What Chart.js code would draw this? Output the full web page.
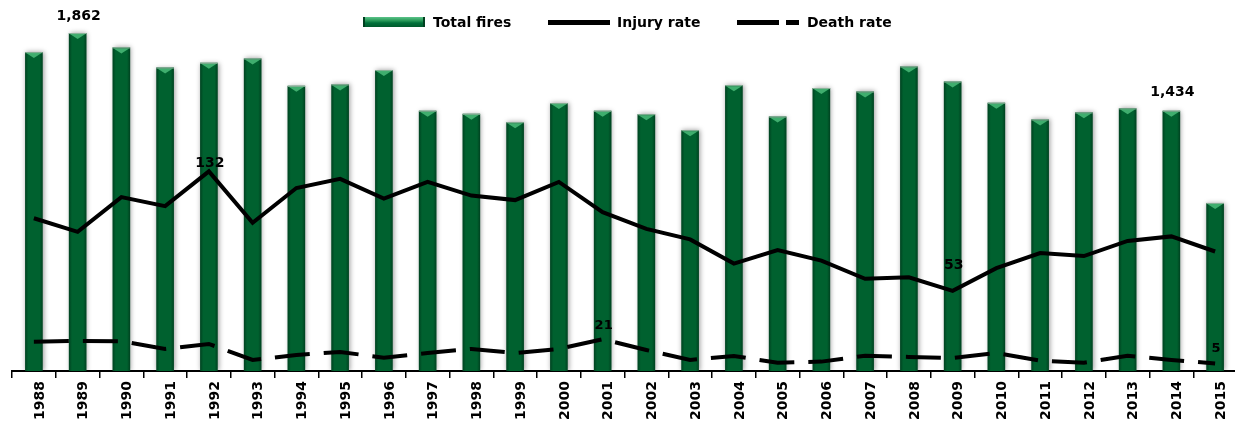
<!DOCTYPE html>
<html>
<head>
<meta charset="utf-8">
<script src="https://cdn.jsdelivr.net/npm/chart.js@4.4.1/dist/chart.umd.min.js"></script>
<style>
  html, body { margin: 0; padding: 0; background: #fff; overflow: hidden; }
  #wrap { position: relative; width: 1250px; height: 423px; }
  #legend { position: absolute; left: 0; top: 0; font: bold 14px 'DejaVu Sans', Verdana, sans-serif; color: #000; }
  #legend div { position: absolute; }
  .txt { top: 13px; line-height: 18px; white-space: nowrap; }
  .ln { height: 5px; top: 20px; background: #000; }
  .box { left: 363px; top: 17px; width: 62px; height: 10px;
         background: linear-gradient(#5cc48a 0%, #2a9a5a 35%, #00703a 60%, #005a2c 100%);
         box-shadow: inset 2px 0 0 #004020, inset -2px 0 0 #004020; }
</style>
</head>
<body>
<div id="wrap">
  <canvas id="chart"></canvas>
  <div id="legend">
    <div class="box"></div>
    <div class="txt" style="left:433px">Total fires</div>
    <div class="ln" style="left:548px;width:62px"></div>
    <div class="txt" style="left:617px">Injury rate</div>
    <div class="ln" style="left:737px;width:42px"></div>
    <div class="ln" style="left:786px;width:13px"></div>
    <div class="txt" style="left:807px">Death rate</div>
  </div>
</div>
<script>
const years = ['1988', '1989', '1990', '1991', '1992', '1993', '1994', '1995', '1996', '1997',
               '1998', '1999', '2000', '2001', '2002', '2003', '2004', '2005', '2006', '2007',
               '2008', '2009', '2010', '2011', '2012', '2013', '2014', '2015'];

const totalFires = [1757, 1862, 1783, 1672, 1698, 1722, 1571, 1579, 1658, 1434,
                    1417, 1371, 1476, 1434, 1415, 1327, 1575, 1402, 1559, 1540,
                    1678, 1595, 1478, 1386, 1425, 1447, 1434, 926];

const injuryRate = [101, 92, 115, 109, 132, 98, 121, 127, 114, 125,
                    116, 113, 125, 105, 94, 87, 71, 80, 73, 61,
                    62, 53, 68, 78, 76, 86, 89, 79];

const deathRate = [19.4, 19.9, 19.7, 14.6, 17.9, 7.3, 10.6, 12.6, 8.8, 11.9,
                   14.6, 11.9, 14.6, 21, 13.9, 7.3, 9.9, 5.5, 6.2, 10.1,
                   9.3, 8.6, 11.9, 6.8, 5.5, 10.1, 7.3, 5];

// which points carry a value label
const firesLabelled  = [1, 26];
const injuryLabelled = [4, 21];
const deathLabelled  = [13, 27];

const FONT = "'DejaVu Sans', Verdana, sans-serif";

// bevel + shadow look for the bars, drawn on top of the library's bar elements
const barDecor = {
    id: 'barDecor',
    beforeDatasetDraw(chart, args) {
        if (args.index !== 0) return;
        const ctx = chart.ctx;
        ctx.save();
        ctx.shadowColor = 'rgba(0,0,0,0.4)';
        ctx.shadowBlur = 5;
        ctx.shadowOffsetX = 1;
    },
    afterDatasetDraw(chart, args) {
        if (args.index !== 0) return;
        const ctx = chart.ctx;
        ctx.restore();
        ctx.save();
        for (const bar of args.meta.data) {
            const { x, y, width, base } = bar.getProps(['x', 'y', 'width', 'base'], true);
            const l = x - width / 2, r = x + width / 2;
            const g = ctx.createLinearGradient(l, 0, r, 0);
            g.addColorStop(0, 'rgba(0,40,20,0.55)');
            g.addColorStop(0.18, 'rgba(0,40,20,0)');
            g.addColorStop(0.82, 'rgba(0,40,20,0)');
            g.addColorStop(1, 'rgba(0,40,20,0.55)');
            ctx.fillStyle = g;
            ctx.fillRect(l, y, width, base - y);
            // top bevel triangle
            ctx.fillStyle = '#3fae6e';
            ctx.beginPath();
            ctx.moveTo(l + 1, y + 1);
            ctx.lineTo(r - 1, y + 1);
            ctx.lineTo(x, y + 6);
            ctx.closePath();
            ctx.fill();
            ctx.fillStyle = '#8fb89e';
            ctx.fillRect(l, y, width, 1);
        }
        ctx.restore();
    }
};

// value labels above the chosen points
const valueLabels = {
    id: 'valueLabels',
    afterDatasetsDraw(chart) {
        const ctx = chart.ctx;
        const sets = [
            { ds: 0, idx: firesLabelled,  dy: [-17, -18], size: 14 },
            { ds: 1, idx: injuryLabelled, dy: [-8, -25], size: 14 },
            { ds: 2, idx: deathLabelled,  dy: [-14, -15], size: 13 }
        ];
        ctx.save();
        ctx.fillStyle = '#000';
        ctx.textAlign = 'center';
        ctx.textBaseline = 'middle';
        for (const s of sets) {
            const meta = chart.getDatasetMeta(s.ds);
            const values = chart.data.datasets[s.ds].data;
            ctx.font = 'bold ' + s.size + 'px ' + FONT;
            s.idx.forEach((i, k) => {
                const el = meta.data[i];
                ctx.fillText(values[i].toLocaleString('en-US'), el.x + 1, el.y + s.dy[k]);
            });
        }
        ctx.restore();
    }
};

new Chart(document.getElementById('chart'), {
    type: 'bar',
    data: {
        labels: years,
        datasets: [
            {
                label: 'Total fires',
                data: totalFires,
                backgroundColor: '#00612f',
                categoryPercentage: 1,
                barPercentage: 0.4,
                yAxisID: 'y',
                order: 2
            },
            {
                type: 'line',
                label: 'Injury rate',
                data: injuryRate,
                borderColor: '#000',
                borderWidth: 4,
                borderJoinStyle: 'miter',
                borderCapStyle: 'butt',
                pointRadius: 0,
                tension: 0,
                yAxisID: 'y2',
                order: 1
            },
            {
                type: 'line',
                label: 'Death rate',
                data: deathRate,
                borderColor: '#000',
                borderWidth: 4,
                borderDash: [35, 14],
                borderJoinStyle: 'miter',
                borderCapStyle: 'butt',
                pointRadius: 0,
                tension: 0,
                yAxisID: 'y2',
                order: 0
            }
        ]
    },
    options: {
        responsive: true,
        maintainAspectRatio: false,
        animation: false,
        layout: { padding: { left: 12, right: 13, top: 8, bottom: 0 } },
        plugins: {
            legend: { display: false },
            tooltip: { enabled: false }
        },
        scales: {
            x: {
                offset: true,
                grid: { display: true, offset: true, drawOnChartArea: false, drawTicks: true,
                        tickLength: 7, color: '#000', lineWidth: 1.5 },
                border: { display: true, color: '#000', width: 2 },
                ticks: {
                    autoSkip: false, maxRotation: 90, minRotation: 90, padding: 3, labelOffset: 6,
                    color: '#000', font: { family: FONT, size: 14, weight: 'bold' }
                },
                afterFit(axis) { axis.height = 52; }
            },
            y: { display: false, min: 0, max: 2000 },
            y2: { display: false, min: 0, max: 240, position: 'right' }
        }
    },
    plugins: [barDecor, valueLabels]
});
</script>
</body>
</html>
